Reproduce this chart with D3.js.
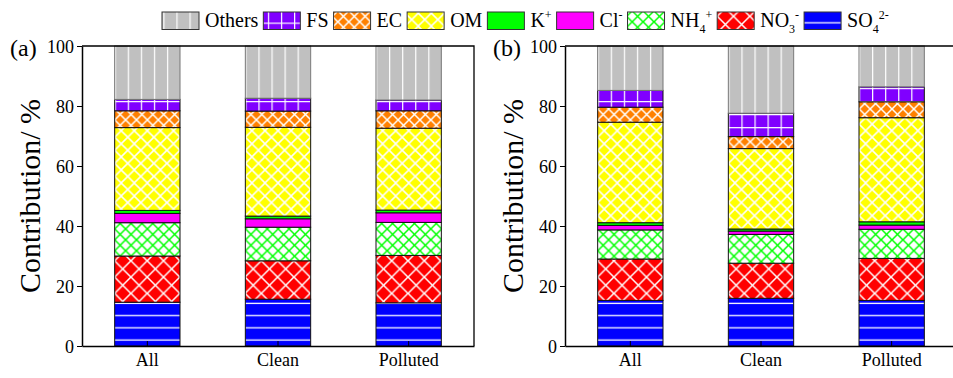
<!DOCTYPE html>
<html>
<head>
<meta charset="utf-8">
<script src="https://cdn.jsdelivr.net/npm/d3@7"></script>
<style>
  body { margin: 0; background: #fff; }
  text { font-family: "Liberation Serif", "Times New Roman", serif; fill: #000; }
</style>
</head>
<body>
<svg id="chart" width="953" height="378"></svg>
<script>
// categories and species (stack order bottom -> top)
var categories = ["All", "Clean", "Polluted"];
var species = ["SO4", "NO3", "NH4", "Cl", "K", "OM", "EC", "FS", "Others"];
var yTicks = [0, 20, 40, 60, 80, 100];

// panel (a) contributions, %, same order as species
var aAll      = [14.6, 15.4, 11.1, 3.1, 1.0, 27.6, 5.6, 3.8, 17.8];
var aClean    = [15.6, 12.8, 11.2, 2.8, 0.9, 29.6, 5.4, 4.3, 17.4];
var aPolluted = [14.4, 15.8, 11.0, 3.2, 0.9, 27.3, 5.8, 3.6, 18.0];

// panel (b)
var bAll      = [15.2, 13.8, 9.7, 1.5, 0.9, 33.5, 5.0, 5.6, 14.8];
var bClean    = [15.9, 11.7, 9.6, 1.1, 0.7, 26.8, 4.0, 7.8, 22.4];
var bPolluted = [15.2, 14.0, 9.7, 1.4, 1.1, 34.7, 5.3, 5.0, 13.6];

var svg = d3.select("#chart");
var defs = svg.append("defs");

var W = 392, yTop = 46, yBottom = 346;

// --- patterns ---
function crossPattern(id, bg, line, s, sw) {
  var p = defs.append("pattern").attr("id", id)
    .attr("patternUnits", "userSpaceOnUse").attr("width", s).attr("height", s);
  p.append("rect").attr("width", s).attr("height", s).attr("fill", bg);
  p.append("path").attr("d", "M0,0L" + s + "," + s + "M" + s + ",0L0," + s)
    .attr("stroke", line).attr("stroke-width", sw).attr("fill", "none");
}
crossPattern("pOM", "#ffff00", "#fff", 13.07, 1.5);
crossPattern("pEC", "#ff8000", "#fff", 10.9, 1.5);
crossPattern("pNO3", "#ff0000", "#fff", 16.3, 1.5);
crossPattern("pNH4", "#fff", "#00ff00", 10.9, 1.5);

var cw = 65.33 / 5;
var pO = defs.append("pattern").attr("id", "pOthers").attr("patternUnits", "userSpaceOnUse")
  .attr("x", 32.67).attr("width", cw).attr("height", 10);
pO.append("rect").attr("width", cw).attr("height", 10).attr("fill", "#c0c0c0");
pO.append("rect").attr("x", 0).attr("width", 1.2).attr("height", 10).attr("fill", "#fff");

var pF = defs.append("pattern").attr("id", "pFS").attr("patternUnits", "userSpaceOnUse")
  .attr("x", 32.67).attr("y", 9.5).attr("width", cw).attr("height", cw);
pF.append("rect").attr("width", cw).attr("height", cw).attr("fill", "#8000ff");
pF.append("rect").attr("width", 1.2).attr("height", cw).attr("fill", "#fff");
pF.append("rect").attr("y", 0).attr("width", cw).attr("height", 1.2).attr("fill", "#fff");

var pS = defs.append("pattern").attr("id", "pSO4").attr("patternUnits", "userSpaceOnUse")
  .attr("width", 10).attr("height", 12.2);
pS.append("rect").attr("width", 10).attr("height", 12.2).attr("fill", "#0000ff");
pS.append("rect").attr("y", 10).attr("width", 10).attr("height", 1.3).attr("fill", "#fff");

var fills = {
  SO4: "url(#pSO4)", NO3: "url(#pNO3)", NH4: "url(#pNH4)", Cl: "#ff00ff", K: "#00ff00",
  OM: "url(#pOM)", EC: "url(#pEC)", FS: "url(#pFS)", Others: "url(#pOthers)"
};

var y = d3.scaleLinear().domain([0, 100]).range([yBottom, yTop]);
var x = d3.scaleBand().domain(categories).range([0, W]).paddingInner(0.5).paddingOuter(0.25);

function toRows(cols) {
  return categories.map(function(c, i) {
    var row = { cat: c };
    species.forEach(function(s, j) { row[s] = cols[i][j]; });
    return row;
  });
}

function drawPanel(x0, label, cols) {
  var g = svg.append("g").attr("transform", "translate(" + x0 + ",0)");
  var stacked = d3.stack().keys(species)(toRows(cols));

  g.selectAll("g.layer").data(stacked).enter().append("g")
    .attr("class", "layer")
    .attr("fill", function(d) { return fills[d.key]; })
    .selectAll("rect").data(function(d) { return d; }).enter().append("rect")
    .attr("x", function(d) { return x(d.data.cat); })
    .attr("width", x.bandwidth())
    .attr("y", function(d) { return y(d[1]); })
    .attr("height", function(d) { return y(d[0]) - y(d[1]); })
    .attr("stroke", function(d) { return d[1] >= 99.9 ? "#777" : "#111"; })
    .attr("stroke-width", 1);

  // frame
  g.append("path").attr("d", "M0," + yTop + "H" + W + "V" + yBottom)
    .attr("fill", "none").attr("stroke", "#000").attr("stroke-width", 1.3);

  var yAxis = g.append("g").call(d3.axisLeft(y).tickValues(yTicks).tickSize(5).tickSizeOuter(0).tickPadding(3));
  yAxis.select(".domain").attr("stroke-width", 1.5);
  yAxis.selectAll("text").attr("font-size", 18).attr("font-family", "Liberation Serif").attr("dy", "0.34em");

  var xAxis = g.append("g").attr("transform", "translate(0," + yBottom + ")")
    .call(d3.axisBottom(x).tickSize(-5).tickSizeOuter(0).tickPadding(7));
  xAxis.select(".domain").attr("stroke-width", 1.5);
  xAxis.selectAll("text").attr("font-size", 18).attr("font-family", "Liberation Serif");

  g.append("text").attr("transform", "translate(-42," + ((yTop + yBottom) / 2) + ") rotate(-90)")
    .attr("text-anchor", "middle").attr("font-size", 30).text("Contribution/ %");

  g.append("text").attr("x", -72).attr("y", 56).attr("font-size", 24).text(label);
}

drawPanel(82, "(a)", [aAll, aClean, aPolluted]);
drawPanel(565, "(b)", [bAll, bClean, bPolluted]);

// --- legend ---
var legendOrder = ["Others", "FS", "EC", "OM", "K", "Cl", "NH4", "NO3", "SO4"];
var legendLabels = {
  Others: [["Others"]], FS: [["FS"]], EC: [["EC"]], OM: [["OM"]],
  K: [["K"], ["+", "sup"]], Cl: [["Cl"], ["-", "sup"]],
  NH4: [["NH"], ["4", "sub"], ["+", "sup"]], NO3: [["NO"], ["3", "sub"], ["-", "sup"]],
  SO4: [["SO"], ["4", "sub"], ["2-", "sup"]]
};
var lx = 162;
legendOrder.forEach(function(k) {
  svg.append("rect").attr("x", lx).attr("y", 12).attr("width", 37).attr("height", 17.5)
    .attr("fill", fills[k]).attr("stroke", "#333").attr("stroke-width", 1);
  var t = svg.append("text").attr("x", lx + 43).attr("y", 27).attr("font-size", 20);
  var shift = 0;
  legendLabels[k].forEach(function(part) {
    var ts = t.append("tspan").text(part[0]);
    var target = part[1] === "sub" ? 6 : part[1] === "sup" ? -8 : 0;
    if (part[1]) ts.attr("font-size", 12);
    ts.attr("dy", target - shift);
    shift = target;
  });
  lx = lx + 43 + t.node().getComputedTextLength() + 5;
});
</script>
</body>
</html>
